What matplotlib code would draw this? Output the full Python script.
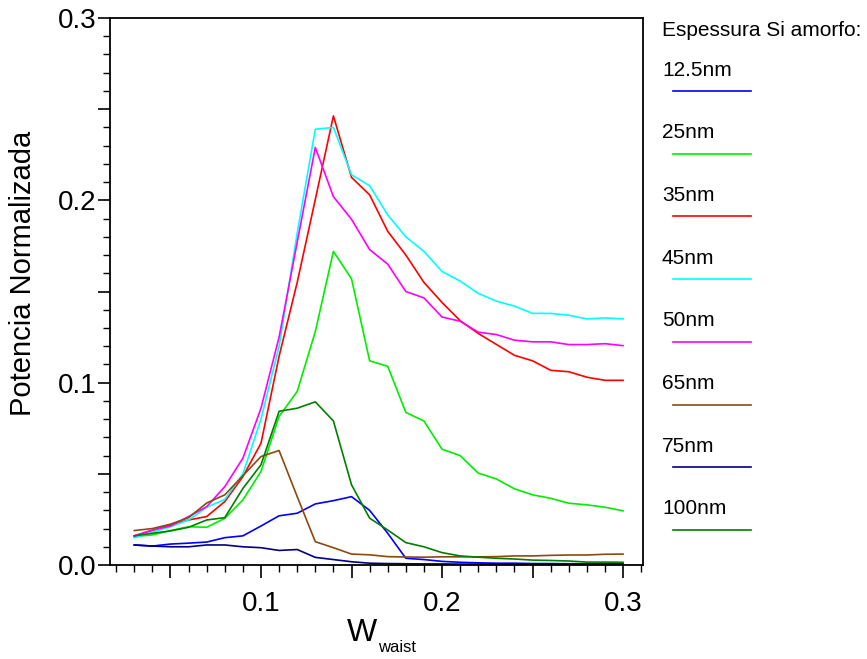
import numpy as np
import matplotlib
matplotlib.use('Agg')
import matplotlib.pyplot as plt
from matplotlib.lines import Line2D
from matplotlib.ticker import MultipleLocator, FuncFormatter

plt.rcParams['font.family'] = ['Liberation Sans', 'DejaVu Sans']

# === Data ===
w_waist = [0.03, 0.04, 0.05, 0.06, 0.07, 0.08, 0.09, 0.10, 0.11, 0.12,
           0.13, 0.14, 0.15, 0.16, 0.17, 0.18, 0.19, 0.20, 0.21, 0.22,
           0.23, 0.24, 0.25, 0.26, 0.27, 0.28, 0.29, 0.30]

p_12_5nm = [0.011, 0.0104, 0.0115, 0.012, 0.0126, 0.015, 0.016, 0.0214, 0.027, 0.0284,
            0.0335, 0.0353, 0.0375, 0.030, 0.0174, 0.0037, 0.003, 0.002, 0.0015, 0.0012,
            0.001, 0.001, 0.0008, 0.0008, 0.0007, 0.0007, 0.0006, 0.0006]
p_25nm = [0.0156, 0.0165, 0.0189, 0.021, 0.0207, 0.0256, 0.0357, 0.0513, 0.0815, 0.0952,
          0.128, 0.172, 0.157, 0.112, 0.109, 0.0837, 0.079, 0.0635, 0.060, 0.0504,
          0.0472, 0.0418, 0.0385, 0.0366, 0.0339, 0.033, 0.0317, 0.0297]
p_35nm = [0.016, 0.019, 0.022, 0.0247, 0.0266, 0.0348, 0.0485, 0.0668, 0.1145, 0.155,
          0.2005, 0.2463, 0.2126, 0.203, 0.183, 0.170, 0.155, 0.144, 0.1340, 0.127,
          0.121, 0.115, 0.112, 0.1068, 0.106, 0.103, 0.1013, 0.1013]
p_45nm = [0.015, 0.018, 0.021, 0.0247, 0.0317, 0.036, 0.050, 0.080, 0.120, 0.182,
          0.239, 0.240, 0.214, 0.208, 0.192, 0.180, 0.172, 0.161, 0.1557, 0.149,
          0.1447, 0.142, 0.138, 0.138, 0.137, 0.135, 0.1355, 0.135]
p_50nm = [0.016, 0.0192, 0.0214, 0.0266, 0.032, 0.043, 0.0586, 0.086, 0.125, 0.177,
          0.229, 0.202, 0.1896, 0.173, 0.165, 0.150, 0.1465, 0.136, 0.1337, 0.1277,
          0.1264, 0.1233, 0.1224, 0.1224, 0.1209, 0.1209, 0.1214, 0.1203]
p_65nm = [0.0189, 0.020, 0.0224, 0.026, 0.034, 0.0385, 0.049, 0.0595, 0.0628, 0.0375,
          0.0128, 0.0095, 0.006, 0.0056, 0.0046, 0.0044, 0.0043, 0.0045, 0.0045, 0.0045,
          0.0046, 0.005, 0.005, 0.0053, 0.0055, 0.0055, 0.0059, 0.006]
p_75nm = [0.011, 0.0104, 0.010, 0.010, 0.011, 0.011, 0.010, 0.0095, 0.008, 0.0085,
          0.0042, 0.003, 0.0018, 0.001, 0.0008, 0.0007, 0.0006, 0.0006, 0.0005, 0.0005,
          0.0005, 0.0005, 0.0005, 0.0005, 0.0005, 0.0005, 0.0005, 0.0005]
p_100nm = [0.016, 0.0174, 0.0187, 0.0207, 0.0247, 0.026, 0.042, 0.055, 0.0843, 0.086,
           0.0895, 0.079, 0.044, 0.0257, 0.0192, 0.0123, 0.010, 0.0068, 0.005, 0.0043,
           0.0037, 0.0033, 0.0027, 0.0025, 0.0022, 0.0016, 0.0016, 0.0015]

labels = ['12.5nm', '25nm', '35nm', '45nm', '50nm', '65nm', '75nm', '100nm']
series = [p_12_5nm, p_25nm, p_35nm, p_45nm, p_50nm, p_65nm, p_75nm, p_100nm]
colors = ['#0000ff', '#00ee00', '#ff0000', '#00ffff', '#ff00ff', '#8b4a0f', '#000080', '#008000']

# === Figure ===
fig = plt.figure(figsize=(8.67, 6.59), dpi=100)
ax = fig.add_axes([0.1269, 0.1426, 0.6147, 0.8301])

for vals, col in zip(series, colors):
    ax.plot(w_waist, vals, color=col, lw=1.2)

ax.set_xlim(0.0166, 0.311)
ax.set_ylim(0.0, 0.3)

# majors every 0.05 (only the tenths get a label), minors every 0.01
def tenth_label(v, pos):
    r = round(v * 10)
    return '%.1f' % (r / 10) if abs(v * 10 - r) < 1e-6 else ''

for axis in (ax.xaxis, ax.yaxis):
    axis.set_major_locator(MultipleLocator(0.05))
    axis.set_minor_locator(MultipleLocator(0.01))
    axis.set_major_formatter(FuncFormatter(tenth_label))

ax.tick_params(which='major', direction='out', length=9, width=1.2, labelsize=20)
ax.tick_params(which='minor', direction='out', length=5, width=1.0)
ax.tick_params(axis='x', which='major', pad=10)
ax.tick_params(axis='y', which='major', pad=1)
for sp in ax.spines.values():
    sp.set_linewidth(1.3)

# y label placed by hand (it sits a bit above the axes centre in the reference)
fig.text(23 / 867, 1 - 273 / 659, 'Potencia Normalizada', fontsize=21,
         rotation=90, ha='center', va='center')

# x label: big W with a small "waist" subscript
fig.text(347 / 867, 1 - 633 / 659, 'W', fontsize=23, ha='left', va='center')
fig.text(378 / 867, 1 - 648 / 659, 'waist', fontsize=12, ha='left', va='center')

# === Legend drawn to the right of the axes ===
fig.text(662 / 867, 1 - 30 / 659, 'Espessura Si amorfo:', fontsize=15,
         ha='left', va='center')
for i, (lab, col) in enumerate(zip(labels, colors)):
    ty = 70 + i * 62.7
    ly = 91 + i * 62.7
    fig.text(662 / 867, 1 - ty / 659, lab, fontsize=15, ha='left', va='center')
    fig.add_artist(Line2D([673 / 867, 751 / 867], [1 - ly / 659, 1 - ly / 659],
                          color=col, lw=1.2, transform=fig.transFigure))

fig.savefig('out.png', dpi=100)
